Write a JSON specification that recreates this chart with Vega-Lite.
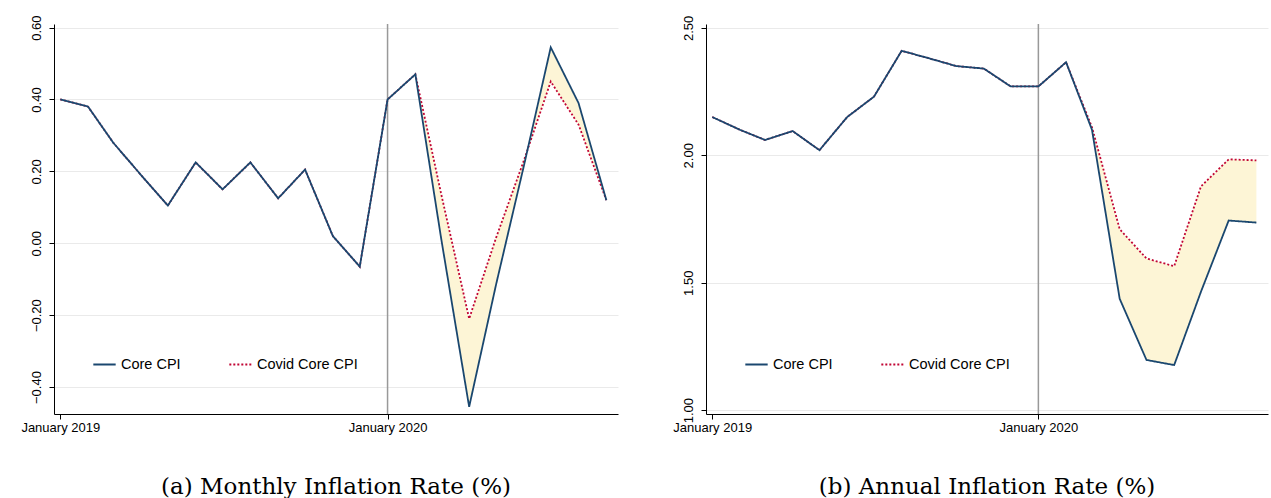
{
  "$schema": "https://vega.github.io/schema/vega-lite/v6.json",
  "background": "white",
  "padding": {"left": 20, "top": 14, "right": 2, "bottom": 4},
  "datasets": {
    "cpi": [
      {"date": "2019-01-01", "p": "m", "core": 0.40, "covid": 0.40},
      {"date": "2019-02-01", "p": "m", "core": 0.38, "covid": 0.38},
      {"date": "2019-03-01", "p": "m", "core": 0.28, "covid": 0.28},
      {"date": "2019-04-01", "p": "m", "core": 0.19, "covid": 0.19},
      {"date": "2019-05-01", "p": "m", "core": 0.105, "covid": 0.105},
      {"date": "2019-06-01", "p": "m", "core": 0.225, "covid": 0.225},
      {"date": "2019-07-01", "p": "m", "core": 0.15, "covid": 0.15},
      {"date": "2019-08-01", "p": "m", "core": 0.225, "covid": 0.225},
      {"date": "2019-09-01", "p": "m", "core": 0.125, "covid": 0.125},
      {"date": "2019-10-01", "p": "m", "core": 0.205, "covid": 0.205},
      {"date": "2019-11-01", "p": "m", "core": 0.02, "covid": 0.02},
      {"date": "2019-12-01", "p": "m", "core": -0.065, "covid": -0.065},
      {"date": "2020-01-01", "p": "m", "core": 0.40, "covid": 0.40},
      {"date": "2020-02-01", "p": "m", "core": 0.47, "covid": 0.47},
      {"date": "2020-03-01", "p": "m", "core": 0.01, "covid": 0.135},
      {"date": "2020-04-01", "p": "m", "core": -0.455, "covid": -0.21},
      {"date": "2020-05-01", "p": "m", "core": -0.115, "covid": 0.015},
      {"date": "2020-06-01", "p": "m", "core": 0.215, "covid": 0.23},
      {"date": "2020-07-01", "p": "m", "core": 0.545, "covid": 0.45},
      {"date": "2020-08-01", "p": "m", "core": 0.39, "covid": 0.33},
      {"date": "2020-09-01", "p": "m", "core": 0.12, "covid": 0.12},
      {"date": "2019-01-01", "p": "a", "core": 2.15, "covid": 2.15},
      {"date": "2019-02-01", "p": "a", "core": 2.10, "covid": 2.10},
      {"date": "2019-03-01", "p": "a", "core": 2.06, "covid": 2.06},
      {"date": "2019-04-01", "p": "a", "core": 2.095, "covid": 2.095},
      {"date": "2019-05-01", "p": "a", "core": 2.02, "covid": 2.02},
      {"date": "2019-06-01", "p": "a", "core": 2.15, "covid": 2.15},
      {"date": "2019-07-01", "p": "a", "core": 2.23, "covid": 2.23},
      {"date": "2019-08-01", "p": "a", "core": 2.41, "covid": 2.41},
      {"date": "2019-09-01", "p": "a", "core": 2.38, "covid": 2.38},
      {"date": "2019-10-01", "p": "a", "core": 2.35, "covid": 2.35},
      {"date": "2019-11-01", "p": "a", "core": 2.34, "covid": 2.34},
      {"date": "2019-12-01", "p": "a", "core": 2.27, "covid": 2.27},
      {"date": "2020-01-01", "p": "a", "core": 2.27, "covid": 2.27},
      {"date": "2020-02-01", "p": "a", "core": 2.365, "covid": 2.365},
      {"date": "2020-03-01", "p": "a", "core": 2.10, "covid": 2.11},
      {"date": "2020-04-01", "p": "a", "core": 1.437, "covid": 1.71},
      {"date": "2020-05-01", "p": "a", "core": 1.197, "covid": 1.595},
      {"date": "2020-06-01", "p": "a", "core": 1.177, "covid": 1.565},
      {"date": "2020-07-01", "p": "a", "core": 1.465, "covid": 1.878},
      {"date": "2020-08-01", "p": "a", "core": 1.744, "covid": 1.984},
      {"date": "2020-09-01", "p": "a", "core": 1.736, "covid": 1.98}
    ],
    "marker": [{"date": "2020-01-01"}]
  },
  "config": {
    "view": {"stroke": null},
    "font": "Liberation Sans",
    "axis": {"labelFontSize": 13, "labelColor": "black", "domainColor": "black", "tickColor": "black"},
    "legend": {"orient": "none", "legendX": 38, "legendY": 328, "direction": "horizontal", "labelFontSize": 14.5, "symbolType": "stroke", "symbolSize": 500, "symbolStrokeWidth": 1.8, "columnPadding": 44, "labelColor": "black", "title": null},
    "title": {"font": "DejaVu Serif", "fontSize": 23, "fontWeight": "normal", "orient": "bottom", "offset": 42}
  },
  "spacing": 54,
  "resolve": {"scale": {"color": "independent", "strokeDash": "independent"}},
  "hconcat": [
    {
      "title": "(a) Monthly Inflation Rate (%)",
      "width": 564, "height": 390,
      "data": {"name": "cpi"},
      "transform": [{"filter": "datum.p == 'm'"}, {"fold": ["covid", "core"], "as": ["s", "v"]},
        {"calculate": "datum.s == 'core' ? 'Core CPI' : 'Covid Core CPI'", "as": "series"}],
      "encoding": {
        "x": {"field": "date", "type": "temporal", "title": null,
          "scale": {"domain": ["2018-12-25", "2020-09-14"]},
          "axis": {"values": ["2019-01-01", "2020-01-01"], "format": "%B %Y", "grid": false, "labelAlign": "center", "labelOverlap": false}},
        "y": {"field": "v", "type": "quantitative", "title": null,
          "scale": {"domain": [-0.475, 0.61], "nice": false, "zero": false},
          "axis": {"values": [-0.4, -0.2, 0, 0.2, 0.4, 0.6], "format": ".2f", "labelAngle": -90, "labelAlign": "center", "labelBaseline": "bottom", "labelPadding": 6, "gridColor": "#eaeaea"}}
      },
      "layer": [
        {"transform": [{"filter": "datum.s == 'core'"}], "mark": {"type": "area", "color": "#fdf5d6"},
          "encoding": {"y2": {"field": "covid"}}},
        {"data": {"name": "marker"}, "transform": [],
          "mark": {"type": "rule", "color": "#999999", "strokeWidth": 1.5},
          "encoding": {"x": {"field": "date", "type": "temporal"}, "y": null}},
        {"transform": [{"filter": "datum.s == 'covid'"}],
          "mark": {"type": "line", "strokeWidth": 1.8},
          "encoding": {
            "color": {"field": "series", "type": "nominal", "scale": {"domain": ["Core CPI", "Covid Core CPI"], "range": ["#1a476f", "#c10534"]}},
            "strokeDash": {"field": "series", "type": "nominal", "scale": {"domain": ["Core CPI", "Covid Core CPI"], "range": [[1, 0], [2, 2]]}}
          }},
        {"transform": [{"filter": "datum.s == 'core'"}],
          "mark": {"type": "line", "strokeWidth": 1.8},
          "encoding": {
            "color": {"field": "series", "type": "nominal", "scale": {"domain": ["Core CPI", "Covid Core CPI"], "range": ["#1a476f", "#c10534"]}},
            "strokeDash": {"field": "series", "type": "nominal", "scale": {"domain": ["Core CPI", "Covid Core CPI"], "range": [[1, 0], [2, 2]]}}
          }}
      ]
    },
    {
      "title": "(b) Annual Inflation Rate (%)",
      "width": 562, "height": 390,
      "data": {"name": "cpi"},
      "transform": [{"filter": "datum.p == 'a'"}, {"fold": ["covid", "core"], "as": ["s", "v"]},
        {"calculate": "datum.s == 'core' ? 'Core CPI' : 'Covid Core CPI'", "as": "series"}],
      "encoding": {
        "x": {"field": "date", "type": "temporal", "title": null,
          "scale": {"domain": ["2018-12-25", "2020-09-14"]},
          "axis": {"values": ["2019-01-01", "2020-01-01"], "format": "%B %Y", "grid": false, "labelAlign": "center", "labelOverlap": false}},
        "y": {"field": "v", "type": "quantitative", "title": null,
          "scale": {"domain": [0.985, 2.515], "nice": false, "zero": false},
          "axis": {"values": [1, 1.5, 2, 2.5], "format": ".2f", "labelAngle": -90, "labelAlign": "center", "labelBaseline": "bottom", "labelPadding": 6, "gridColor": "#eaeaea"}}
      },
      "layer": [
        {"transform": [{"filter": "datum.s == 'core'"}], "mark": {"type": "area", "color": "#fdf5d6"},
          "encoding": {"y2": {"field": "covid"}}},
        {"data": {"name": "marker"}, "transform": [],
          "mark": {"type": "rule", "color": "#999999", "strokeWidth": 1.5},
          "encoding": {"x": {"field": "date", "type": "temporal"}, "y": null}},
        {"transform": [{"filter": "datum.s == 'covid'"}],
          "mark": {"type": "line", "strokeWidth": 1.8},
          "encoding": {
            "color": {"field": "series", "type": "nominal", "scale": {"domain": ["Core CPI", "Covid Core CPI"], "range": ["#1a476f", "#c10534"]}},
            "strokeDash": {"field": "series", "type": "nominal", "scale": {"domain": ["Core CPI", "Covid Core CPI"], "range": [[1, 0], [2, 2]]}}
          }},
        {"transform": [{"filter": "datum.s == 'core'"}],
          "mark": {"type": "line", "strokeWidth": 1.8},
          "encoding": {
            "color": {"field": "series", "type": "nominal", "scale": {"domain": ["Core CPI", "Covid Core CPI"], "range": ["#1a476f", "#c10534"]}},
            "strokeDash": {"field": "series", "type": "nominal", "scale": {"domain": ["Core CPI", "Covid Core CPI"], "range": [[1, 0], [2, 2]]}}
          }}
      ]
    }
  ]
}
